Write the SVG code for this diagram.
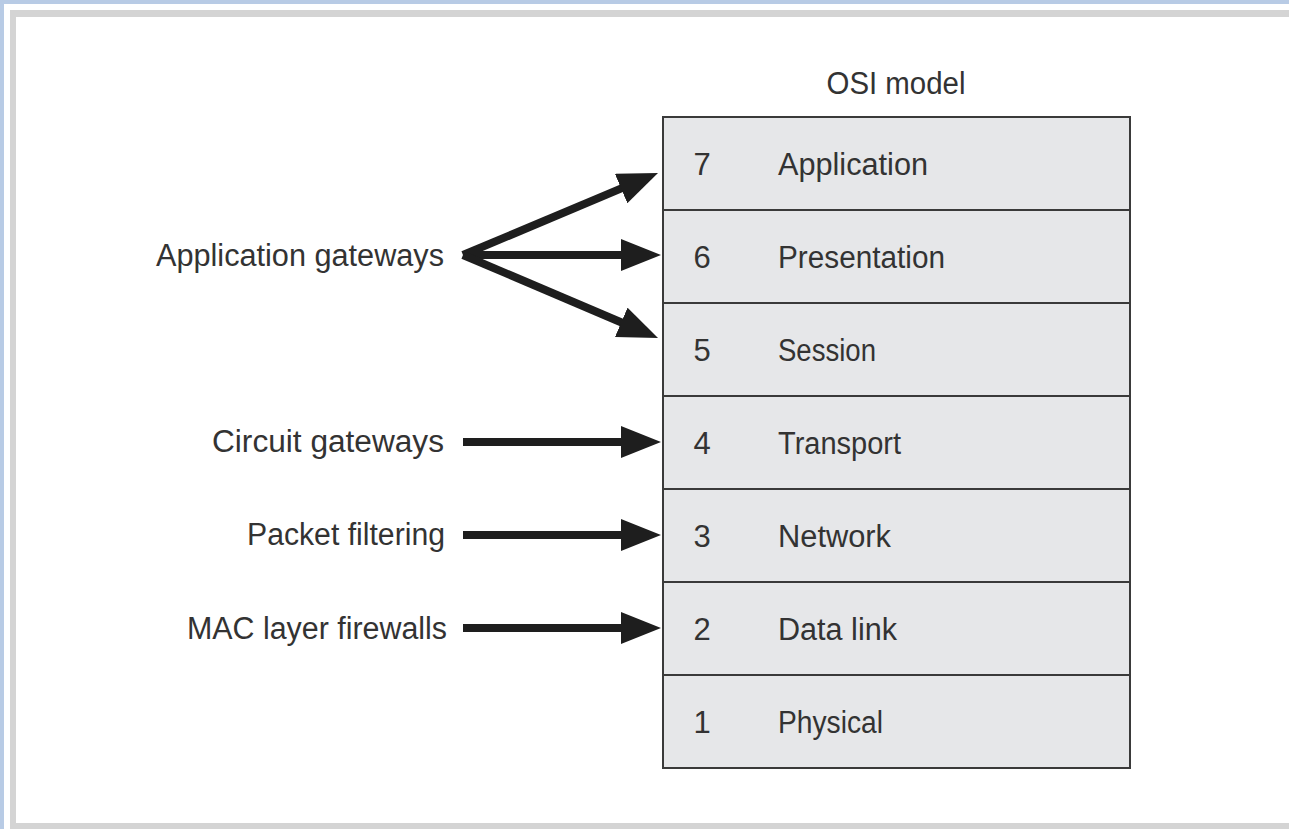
<svg xmlns="http://www.w3.org/2000/svg" width="1289" height="829" viewBox="0 0 1289 829">
<style>
  text { font-family: "Liberation Sans", Arial, sans-serif; font-size: 31px; fill: #333333; }
  .lbl { text-anchor: end; }
  .num { text-anchor: middle; }
  .layer rect { fill: #e6e7e9; stroke: #3a3a3a; stroke-width: 2; }
  .conn line { stroke: #1e1e1e; stroke-width: 8; }
</style>
<defs>
  <marker id="ah" markerUnits="userSpaceOnUse" markerWidth="40" markerHeight="32" refX="8" refY="16" orient="auto" viewBox="0 0 40 32">
    <path d="M0,0 L40,16 L0,32 z" fill="#1e1e1e"/>
  </marker>
</defs>
<g id="frame">
  <rect x="0" y="0" width="1289" height="829" fill="#b8cbe5"/>
  <rect x="4" y="4" width="1285" height="825" fill="#ffffff"/>
  <rect x="10" y="10" width="1279" height="7" fill="#d4d4d4"/>
  <rect x="10" y="10" width="6" height="819" fill="#d4d4d4"/>
  <rect x="10" y="823" width="1279" height="6" fill="#d4d4d4"/>
</g>
<text id="title" x="896" y="94" class="num" textLength="139" lengthAdjust="spacingAndGlyphs">OSI model</text>
<g id="osi">
  <g id="layer7" class="layer"><rect x="663" y="117" width="467" height="93"/><text x="702" y="174.5" class="num">7</text><text x="778" y="174.5" textLength="150" lengthAdjust="spacingAndGlyphs">Application</text></g>
  <g id="layer6" class="layer"><rect x="663" y="210" width="467" height="93"/><text x="702" y="267.5" class="num">6</text><text x="778" y="267.5" textLength="167" lengthAdjust="spacingAndGlyphs">Presentation</text></g>
  <g id="layer5" class="layer"><rect x="663" y="303" width="467" height="93"/><text x="702" y="360.5" class="num">5</text><text x="778" y="360.5" textLength="98" lengthAdjust="spacingAndGlyphs">Session</text></g>
  <g id="layer4" class="layer"><rect x="663" y="396" width="467" height="93"/><text x="702" y="453.5" class="num">4</text><text x="778" y="453.5" textLength="123" lengthAdjust="spacingAndGlyphs">Transport</text></g>
  <g id="layer3" class="layer"><rect x="663" y="489" width="467" height="93"/><text x="702" y="546.5" class="num">3</text><text x="778" y="546.5" textLength="113" lengthAdjust="spacingAndGlyphs">Network</text></g>
  <g id="layer2" class="layer"><rect x="663" y="582" width="467" height="93"/><text x="702" y="639.5" class="num">2</text><text x="778" y="639.5" textLength="119" lengthAdjust="spacingAndGlyphs">Data link</text></g>
  <g id="layer1" class="layer"><rect x="663" y="675" width="467" height="93"/><text x="702" y="732.5" class="num">1</text><text x="778" y="732.5" textLength="105" lengthAdjust="spacingAndGlyphs">Physical</text></g>
</g>
<g id="appgw"><text x="444" y="266" class="lbl" textLength="288" lengthAdjust="spacingAndGlyphs">Application gateways</text></g>
<g id="circgw"><text x="444" y="452" class="lbl" textLength="232" lengthAdjust="spacingAndGlyphs">Circuit gateways</text></g>
<g id="pktf"><text x="445" y="545" class="lbl" textLength="198" lengthAdjust="spacingAndGlyphs">Packet filtering</text></g>
<g id="macfw"><text x="447" y="639" class="lbl" textLength="260" lengthAdjust="spacingAndGlyphs">MAC layer firewalls</text></g>
<g id="connectors" class="conn">
  <line x1="463" y1="255" x2="628.5" y2="185.4" marker-end="url(#ah)"/>
  <line x1="463" y1="255" x2="629" y2="255" marker-end="url(#ah)"/>
  <line x1="463" y1="255" x2="628.6" y2="325.5" marker-end="url(#ah)"/>
  <line x1="463" y1="442" x2="629" y2="442" marker-end="url(#ah)"/>
  <line x1="463" y1="535" x2="629" y2="535" marker-end="url(#ah)"/>
  <line x1="463" y1="628" x2="629" y2="628" marker-end="url(#ah)"/>
</g>
</svg>
